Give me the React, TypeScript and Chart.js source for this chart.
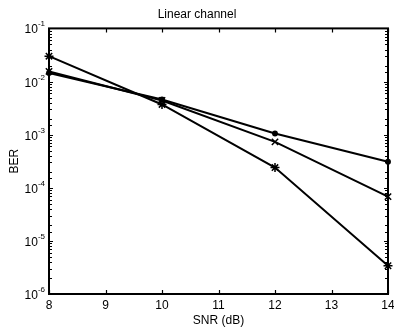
import React, { useEffect, useRef } from "react";
import { Chart, registerables } from "chart.js";

Chart.register(...registerables);

const snr = [8, 10, 12, 14];
const berCircle = [1.45e-2, 4.6e-3, 1.05e-3, 3.1e-4];
const berCross = [1.55e-2, 4.4e-3, 7.3e-4, 6.8e-5];
const berStar = [3.0e-2, 3.7e-3, 2.4e-4, 3.4e-6];
const xTicks = [8, 9, 10, 11, 12, 13, 14];
const yDecades = [-6, -5, -4, -3, -2, -1];

const FONT = "'Liberation Sans', Arial, Helvetica, sans-serif";

const boxPlugin = {
  id: "boxPlugin",
  afterDraw(chart: any) {
    const { ctx, chartArea } = chart;
    const { left, right, top, bottom } = chartArea;
    const xs = chart.scales.x;
    const ys = chart.scales.y;
    ctx.save();
    ctx.strokeStyle = "#000";
    ctx.lineWidth = 2;
    ctx.strokeRect(left, top, right - left, bottom - top);
    ctx.lineWidth = 1.2;
    ctx.beginPath();
    xTicks.forEach((v) => {
      const px = Math.round(xs.getPixelForValue(v)) + 0.5;
      ctx.moveTo(px, bottom);
      ctx.lineTo(px, bottom - 4);
      ctx.moveTo(px, top);
      ctx.lineTo(px, top + 4);
    });
    ys.ticks.forEach((t: any) => {
      const v = t.value;
      const lg = Math.log10(v);
      const major = Math.abs(lg - Math.round(lg)) < 1e-6;
      const len = major ? 4 : 3;
      const py = Math.round(ys.getPixelForValue(v)) + 0.5;
      ctx.moveTo(left, py);
      ctx.lineTo(left + len, py);
      ctx.moveTo(right, py);
      ctx.lineTo(right - len, py);
    });
    ctx.stroke();
    ctx.fillStyle = "#000";
    ctx.textBaseline = "alphabetic";
    yDecades.forEach((d) => {
      const py = ys.getPixelForValue(Math.pow(10, d));
      const sup = String(d);
      ctx.font = `8px ${FONT}`;
      const supW = ctx.measureText(sup).width;
      ctx.font = `12px ${FONT}`;
      const baseW = ctx.measureText("10").width;
      const endX = left - 4;
      const startX = endX - supW - baseW;
      ctx.textAlign = "left";
      ctx.fillText("10", startX, py + 5);
      ctx.font = `8px ${FONT}`;
      ctx.fillText(sup, startX + baseW, py - 2);
    });
    ctx.restore();
  },
};

export default function App() {
  const ref = useRef<HTMLCanvasElement | null>(null);
  useEffect(() => {
    if (!ref.current) return;
    const mk = (vals: number[]) => snr.map((x, i) => ({ x, y: vals[i] }));
    const common = {
      borderColor: "#000",
      backgroundColor: "#000",
      borderWidth: 2,
      pointBorderColor: "#000",
      pointBorderWidth: 1.5,
      clip: false as any,
      tension: 0,
    };
    const chart = new Chart(ref.current, {
      type: "line",
      data: {
        datasets: [
          { ...common, data: mk(berCircle), pointStyle: "circle", pointRadius: 2.2, pointBackgroundColor: "#000" },
          { ...common, data: mk(berCross), pointStyle: "crossRot", pointRadius: 4.5 },
          { ...common, data: mk(berStar), pointStyle: "star", pointRadius: 4.5 },
        ],
      },
      options: {
        animation: false,
        responsive: false,
        devicePixelRatio: 1,
        layout: { padding: { left: 0, right: 0, top: 0, bottom: 0 } },
        plugins: {
          legend: { display: false },
          tooltip: { enabled: false },
          title: {
            display: true,
            text: "Linear channel",
            color: "#000",
            font: { family: FONT, size: 12, weight: "normal" },
            padding: { top: 7, bottom: 7 },
          },
        },
        scales: {
          x: {
            type: "linear",
            min: 8,
            max: 14,
            grid: { display: false, drawTicks: false },
            border: { display: false },
            ticks: {
              stepSize: 1,
              color: "#000",
              padding: 4,
              font: { family: FONT, size: 12 },
            },
            title: {
              display: true,
              text: "SNR (dB)",
              color: "#000",
              font: { family: FONT, size: 12 },
              padding: { top: 0, bottom: 4 },
            },
            afterFit: (s: any) => {
              s.height = 38;
              s.paddingRight = 6;
            },
          },
          y: {
            type: "logarithmic",
            min: 1e-6,
            max: 1e-1,
            grid: { display: false, drawTicks: false },
            border: { display: false },
            ticks: {
              display: false,
              autoSkip: false,
            },
            title: {
              display: true,
              text: "BER",
              color: "#000",
              font: { family: FONT, size: 12 },
              padding: { top: 7, bottom: 0 },
            },
            afterFit: (s: any) => {
              s.width = 49;
            },
          },
        },
      },
      plugins: [boxPlugin],
    });
    return () => chart.destroy();
  }, []);
  return (
    <div style={{ position: "fixed", left: 0, top: 0, width: 394, height: 332, background: "#fff" }}>
      <canvas ref={ref} width={394} height={332} style={{ width: 394, height: 332 }} />
    </div>
  );
}
